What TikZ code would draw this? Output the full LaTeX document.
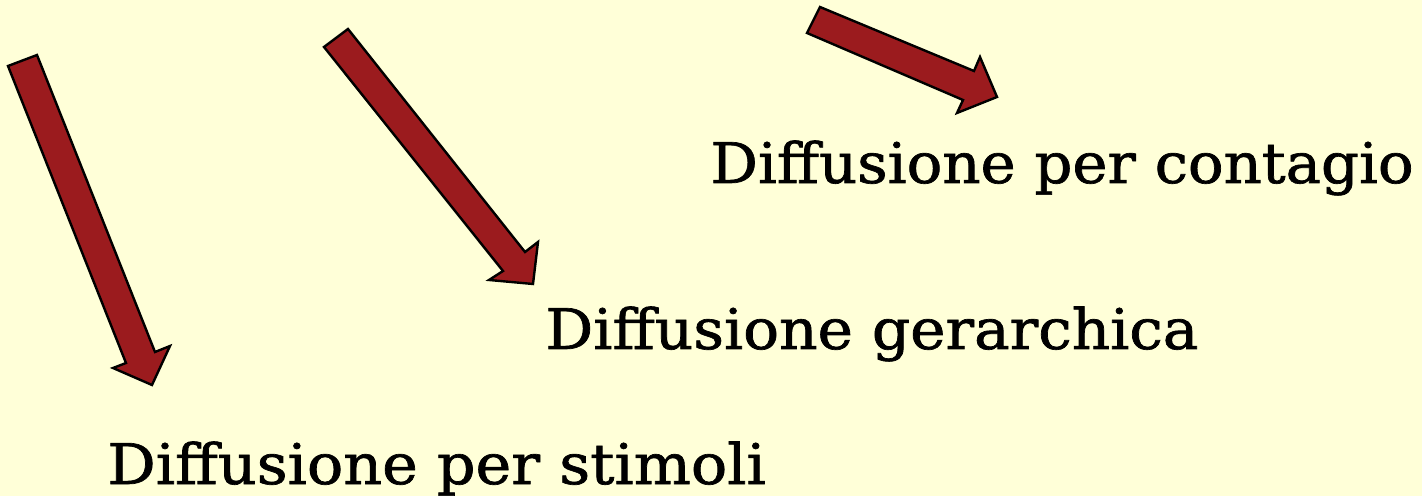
\documentclass[tikz,border=0pt]{standalone}
\usepackage{fontspec}
\setmainfont{DejaVu Serif}[FakeBold=1.2]
\definecolor{bgyellow}{HTML}{FFFFD8}
\definecolor{arrowred}{HTML}{9B1B1E}
\tikzset{
  bigarrow/.style={fill=arrowred, draw=black, line width=1.2pt, line join=miter},
  label/.style={anchor=base west, inner sep=0pt, font=\fontsize{28}{30}\selectfont}
}
\begin{document}
\begin{tikzpicture}[x=0.5pt,y=-0.5pt]
\fill[bgyellow] (0,0) rectangle (1422,496);
\useasboundingbox (0,0) rectangle (1422,496);
% arrow to stimoli
\draw[bigarrow] (8,66) -- (37,55) -- (155,352) -- (170,346) -- (152,385) -- (113,368) -- (126,363) -- cycle;
% arrow to gerarchica
\draw[bigarrow] (324,47) -- (348,29) -- (525,252) -- (538,242) -- (533,284) -- (489,280) -- (503,271) -- cycle;
% arrow to contagio
\draw[bigarrow] (807,33) -- (820,7) -- (974,71) -- (980,57) -- (997,97) -- (957,113) -- (963,100) -- cycle;
\node[label] (contagio) at (710,183) {\scalebox{1.059}[1]{Diffusione per contagio}};
\node[label] (gerarchica) at (545,349) {\scalebox{1.067}[1]{Diffusione gerarchica}};
\node[label] (stimoli) at (107,484) {\scalebox{1.077}[1]{Diffusione per stimoli}};
\end{tikzpicture}
\end{document}
